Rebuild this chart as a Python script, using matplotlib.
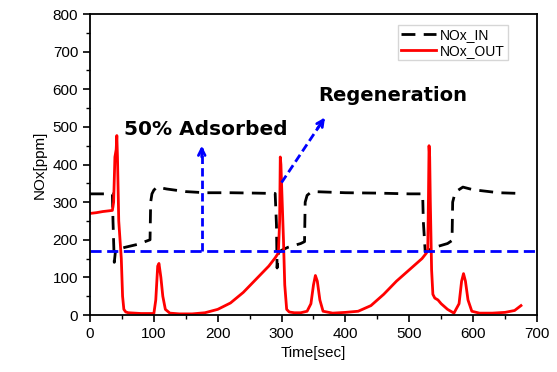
import matplotlib
matplotlib.use("Agg")
import matplotlib.pyplot as plt
from matplotlib.ticker import MultipleLocator

plt.rcParams['font.family'] = ['Liberation Sans', 'DejaVu Sans']

t_in = [0, 35, 36, 38, 40, 45, 55, 75, 94, 95, 97, 100, 105, 120, 150, 180, 220, 260,
        290, 292, 293, 295, 300, 310, 330, 336, 337, 340, 345, 350, 400, 450, 500,
        521, 522, 525, 530, 540, 560, 567, 568, 571, 575, 584, 600, 640, 676]
v_in = [322, 322, 250, 140, 172, 175, 180, 188, 200, 300, 322, 332, 340, 335, 328, 325, 325, 324,
        323, 240, 125, 165, 172, 180, 190, 195, 300, 318, 325, 328, 325, 324, 322,
        322, 250, 168, 172, 180, 190, 198, 300, 320, 330, 340, 333, 325, 323]

t_out = [0, 10, 20, 30, 35, 37, 39, 41, 42, 43, 45, 47, 49, 51, 53, 56, 60, 70, 80, 90,
         100, 103, 106, 108, 111, 114, 118, 125, 140, 160, 180, 200, 220, 240, 260, 280,
         290, 295, 297, 298, 299, 301, 303, 305, 308, 312, 320, 330, 340, 346, 350, 353,
         356, 360, 365, 380, 400, 420, 440, 460, 480, 500, 520, 527, 529, 530, 531, 532,
         533, 535, 537, 540, 545, 550, 560, 570, 578, 582, 585, 588, 592, 598, 610, 630,
         650, 665, 675]
v_out = [270, 272, 275, 277, 278, 300, 420, 440, 477, 420, 250, 200, 150, 50, 15, 8, 6, 5, 4, 4,
         4, 40, 130, 137, 100, 50, 15, 5, 3, 3, 6, 15, 32, 60, 95, 130,
         152, 165, 250, 420, 400, 300, 200, 80, 15, 8, 6, 6, 10, 30, 80, 105,
         90, 40, 10, 5, 7, 10, 25, 55, 90, 120, 150, 165, 175, 300, 450, 420,
         300, 120, 55, 45, 40, 30, 15, 5, 30, 90, 110, 90, 40, 10, 5, 5,
         7, 12, 25]

half_level = 170
adsorbed_t = 175
adsorbed_top = 450
regen_start = (300, 352)
regen_end = (368, 525)

fig = plt.figure(figsize=(5.57, 3.72), dpi=100)
ax = fig.add_axes([0.1616, 0.1532, 0.8024, 0.8091])

ax.plot(t_in, v_in, color='black', lw=2, dashes=(5, 3), label='NOx_IN')
ax.plot(t_out, v_out, color='red', lw=2, label='NOx_OUT')
ax.axhline(half_level, color='blue', lw=2, dashes=(4, 2))

# dashed arrow shafts
ax.plot([adsorbed_t, adsorbed_t], [half_level, adsorbed_top - 5], color='blue', lw=2,
        dashes=(3, 1.5))
ax.plot([regen_start[0], regen_end[0] - 2], [regen_start[1], regen_end[1] - 5], color='blue',
        lw=2, dashes=(3, 1.5))
# arrow heads
ax.annotate('', xy=(adsorbed_t, adsorbed_top), xytext=(adsorbed_t, adsorbed_top - 30),
            arrowprops=dict(arrowstyle='->', color='blue', lw=2, shrinkA=0, shrinkB=0,
                            mutation_scale=12))
ax.annotate('', xy=regen_end, xytext=(regen_end[0] - 12, regen_end[1] - 30),
            arrowprops=dict(arrowstyle='->', color='blue', lw=2, shrinkA=0, shrinkB=0,
                            mutation_scale=12))

ax.text(53, 493, '50% Adsorbed', fontsize=14.5, fontweight='bold', va='center', ha='left',
        family=['DejaVu Sans'])
ax.text(357, 583, 'Regeneration', fontsize=14, fontweight='bold', va='center', ha='left',
        family=['DejaVu Sans'])

ax.set_xlim(0, 700)
ax.set_ylim(0, 800)
ax.xaxis.set_major_locator(MultipleLocator(100))
ax.xaxis.set_minor_locator(MultipleLocator(50))
ax.yaxis.set_major_locator(MultipleLocator(100))
ax.yaxis.set_minor_locator(MultipleLocator(50))
ax.tick_params(which='both', direction='out', top=False, right=False, labelsize=11)
ax.tick_params(which='major', length=5, width=1.2)
ax.tick_params(which='minor', length=3, width=1)
for s in ax.spines.values():
    s.set_linewidth(1.3)
ax.set_xlabel('Time[sec]', fontsize=11)
ax.set_ylabel('NOx[ppm]', fontsize=11)

leg = ax.legend(loc='upper right', fontsize=10, frameon=True, fancybox=False,
                edgecolor='#cccccc', handlelength=2.5, borderpad=0.2, labelspacing=0.1,
                handletextpad=0.3, bbox_to_anchor=(0.95, 0.985))

fig.savefig('out.png', dpi=100)
